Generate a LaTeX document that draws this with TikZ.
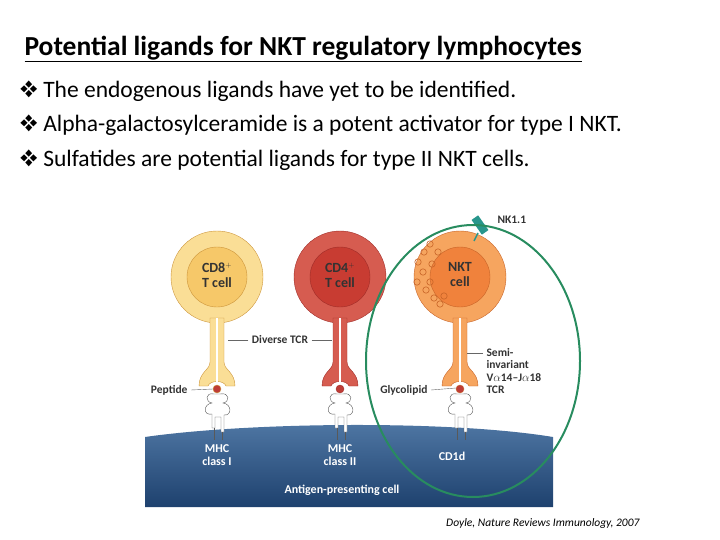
\documentclass[tikz,border=0pt]{standalone}
\usepackage{fontspec}
\setmainfont{Carlito}
\usepackage{pifont}
\usepackage{xcolor}
\definecolor{cdeightO}{RGB}{250,222,150}
\definecolor{cdeightI}{RGB}{246,200,105}
\definecolor{cdeightB}{RGB}{205,150,60}
\definecolor{cdfourO}{RGB}{214,92,80}
\definecolor{cdfourI}{RGB}{200,60,50}
\definecolor{cdfourB}{RGB}{160,45,40}
\definecolor{nktO}{RGB}{246,165,95}
\definecolor{nktI}{RGB}{240,130,60}
\definecolor{nktB}{RGB}{200,100,40}
\definecolor{apc}{RGB}{30,65,110}
\definecolor{apctop}{RGB}{80,120,165}
\definecolor{ringgreen}{RGB}{40,140,95}
\definecolor{nkteal}{RGB}{40,150,140}
\definecolor{dotred}{RGB}{190,60,55}

\newcommand{\tcell}[4]{%
  \fill[#2,draw=#4] (#1,277) circle (46);
  \fill[#3,draw=#4] (#1,277) circle (30);
  \filldraw[fill=#2,draw=#4] (#1-7,318) -- (#1-7,362) .. controls (#1-7,370) and (#1-18,372) .. (#1-18,386)
     -- (#1-9,386) .. controls (#1-7,380) and (#1+7,380) .. (#1+9,386) -- (#1+18,386)
     .. controls (#1+18,372) and (#1+7,370) .. (#1+7,362) -- (#1+7,318) -- cycle;
  \draw[white,line width=1.5pt] (#1,318) -- (#1,382);
  \fill[dotred,draw=#4] (#1,389) circle (4);
  \filldraw[fill=white,draw=gray!70!black] (#1-3,394) .. controls (#1-12,392) and (#1-12,402) .. (#1-5,403)
     .. controls (#1-14,404) and (#1-14,416) .. (#1-5,414) -- (#1-5,428) -- (#1-2,428) -- (#1-2,417)
     -- (#1+4,417) -- (#1+4,432) -- (#1+7,432) -- (#1+7,415) .. controls (#1+15,416) and (#1+15,404) .. (#1+6,403)
     .. controls (#1+13,402) and (#1+13,392) .. (#1+3,394) -- cycle;
  \draw[gray!70!black] (#1-3,428) -- (#1-3,440) (#1+5,432) -- (#1+5,440);
}
\tikzset{lbl/.style={font=\bfseries\fontsize{11.5}{13}\selectfont, text=black!80},
  celllbl/.style={font=\bfseries\fontsize{14}{15}\selectfont, text=black!80, align=center},
  apclbl/.style={font=\bfseries\fontsize{12}{13}\selectfont, text=white, align=center},
  bullet/.style={anchor=west, font=\fontsize{23.5}{28}\selectfont}}

\begin{document}
\begin{tikzpicture}[x=1pt,y=-1pt]
\useasboundingbox (0,0) rectangle (720,540);

\node[anchor=west, font=\bfseries\fontsize{27.5}{30}\selectfont] (title) at (21,49) {\underline{Potential ligands for NKT regulatory lymphocytes}};
\node[bullet] (b1) at (16,91) {\ding{118} The endogenous ligands have yet to be identified.};
\node[bullet] (b2) at (16,125) {\ding{118} Alpha-galactosylceramide is a potent activator for type I NKT.};
\node[bullet] (b3) at (16,160) {\ding{118} Sulfatides are potential ligands for type II NKT cells.};

% antigen presenting cell
\shade[top color=apctop, bottom color=apc] (145,507) -- (145,437) .. controls (250,422) and (450,420) .. (553,437) -- (553,507) -- cycle;

\tcell{217}{cdeightO}{cdeightI}{cdeightB}
\tcell{340}{cdfourO}{cdfourI}{cdfourB}
\tcell{460}{nktO}{nktI}{nktB}

% granules of NKT cell
\foreach \gx/\gy in {418/262,424/252,423/272,430/244,417/282,426/290,434/298,430/282,432/264,438/252,440/304,444/296}
  \draw[nktB,line width=0.6pt] (\gx,\gy) circle (3.2);

% NK1.1
\fill[nkteal,rotate around={35:(480,225)}] (476,216) rectangle (484,234);
\draw[nkteal,line width=1.5pt] (478,233) -- (474,241);

\node[celllbl] (cdeight) at (217,275) {CD8$^{\scriptscriptstyle+}$\\T cell};
\node[celllbl] (cdfour) at (340,275) {CD4$^{\scriptscriptstyle+}$\\T cell};
\node[celllbl] (nkt) at (460,275) {NKT\\cell};
\node[lbl,anchor=west] (nk) at (494,220) {NK1.1};
\node[lbl] (tcr) at (280,340) {Diverse TCR};
\node[lbl,anchor=east] (pep) at (191,390) {Peptide};
\node[lbl,anchor=east] (gly) at (431,390) {Glycolipid};
\node[lbl,anchor=west,align=left,font=\bfseries\fontsize{11.5}{12.5}\selectfont] (semi) at (483,371) {Semi-\\invariant\\V$\alpha$14--J$\alpha$18\\TCR};
\draw[black!60] (tcr.west) -- (228,340) (tcr.east) -- (332,340);
\draw[black!60] (pep.east) -- (213,389);
\draw[black!60] (gly.east) -- (456,388);
\draw[black!60] (semi.west) ++(0,-18) -- +(-16,0);

\node[apclbl] (mhcone) at (217,455) {MHC\\class I};
\node[apclbl] (mhctwo) at (340,455) {MHC\\class II};
\node[apclbl] (cdone) at (452,456) {CD1d};
\node[apclbl] (apcl) at (342,490) {Antigen-presenting cell};

\draw[ringgreen,line width=2pt] (473,361) ellipse (107 and 136);

\node[anchor=east, font=\itshape\fontsize{11.5}{13}\selectfont] (cite) at (643,523) {Doyle, Nature Reviews Immunology, 2007};
\end{tikzpicture}
\end{document}
